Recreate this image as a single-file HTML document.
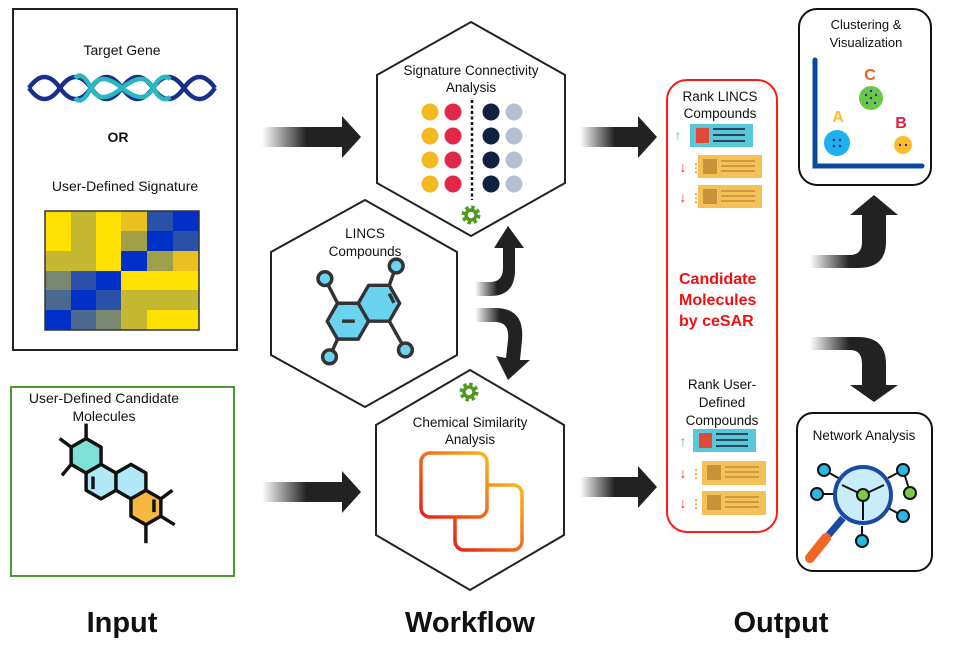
<!DOCTYPE html>
<html><head><meta charset="utf-8"><style>
html,body{margin:0;padding:0;background:#fff;}
svg{display:block}
text{font-family:"Liberation Sans",sans-serif;fill:#111}
</style></head><body>
<svg width="953" height="667" viewBox="0 0 953 667" xmlns="http://www.w3.org/2000/svg">
<defs>
<linearGradient id="fade" x1="0" x2="1" y1="0" y2="0">
<stop offset="0" stop-color="#fff"/><stop offset="0.45" stop-color="#222"/><stop offset="1" stop-color="#222"/>
</linearGradient>
<linearGradient id="sq" x1="0" y1="1" x2="1" y2="0">
<stop offset="0" stop-color="#e8201a"/><stop offset="1" stop-color="#f8b818"/>
</linearGradient>
<g id="gear"><circle r="7" fill="none" stroke="#4a9a1e" stroke-width="5" stroke-dasharray="3 2.5"/><circle r="5" fill="none" stroke="#4a9a1e" stroke-width="3.5"/></g>
</defs>

<!-- Input boxes -->
<rect x="13" y="9" width="224" height="341" fill="#fff" stroke="#222" stroke-width="2"/>
<text x="122" y="55" font-size="14" text-anchor="middle">Target Gene</text>
<g fill="none" stroke-width="4.5">
<path d="M29,88 Q44.5,66 60,88 T91,88 T122,88 T153,88 T184,88 T215,88" stroke="#1a2f8a"/>
<path d="M29,88 Q44.5,110 60,88 T91,88 T122,88 T153,88 T184,88 T215,88" stroke="#1a2f8a"/>
<path d="M75,78 Q82,70 91,88 T122,88 T153,88 Q162,104 170,97" stroke="#2ab8c0"/>
<path d="M75,98 Q82,106 91,88 T122,88 T153,88 Q162,72 170,79" stroke="#2ab8c0"/>
</g>
<text x="118" y="142" font-size="14" font-weight="bold" text-anchor="middle">OR</text>
<text x="125" y="191" font-size="14" text-anchor="middle">User-Defined Signature</text>
<g stroke="none">
<rect x="45" y="211" width="154" height="119" fill="#c4b830"/>
<rect x="45" y="211" width="26" height="40" fill="#ffe000"/><rect x="71" y="211" width="25" height="40" fill="#c4b830"/><rect x="96" y="211" width="25" height="60" fill="#ffe000"/><rect x="121" y="211" width="26" height="20" fill="#e8c020"/><rect x="147" y="211" width="26" height="20" fill="#2a50a8"/><rect x="173" y="211" width="26" height="20" fill="#0030c8"/>
<rect x="121" y="231" width="26" height="20" fill="#a0a048"/><rect x="147" y="231" width="26" height="20" fill="#0030c8"/><rect x="173" y="231" width="26" height="20" fill="#2a50a8"/>
<rect x="121" y="251" width="26" height="20" fill="#0030c8"/><rect x="147" y="251" width="26" height="20" fill="#a0a048"/><rect x="173" y="251" width="26" height="20" fill="#e8c020"/>
<rect x="45" y="271" width="26" height="19" fill="#7a8870"/><rect x="71" y="271" width="25" height="19" fill="#2a50a8"/><rect x="96" y="271" width="25" height="19" fill="#0030c8"/><rect x="121" y="271" width="78" height="19" fill="#ffe000"/>
<rect x="45" y="290" width="26" height="20" fill="#4a6890"/><rect x="71" y="290" width="25" height="20" fill="#0030c8"/><rect x="96" y="290" width="25" height="20" fill="#2a50a8"/>
<rect x="45" y="310" width="26" height="20" fill="#0030c8"/><rect x="71" y="310" width="25" height="20" fill="#4a6890"/><rect x="96" y="310" width="25" height="20" fill="#7a8870"/><rect x="147" y="310" width="52" height="20" fill="#ffe000"/>
</g>
<rect x="45" y="211" width="154" height="119" fill="none" stroke="#333" stroke-width="1.5"/>

<rect x="11" y="387" width="223" height="189" fill="#fff" stroke="#4a9a2e" stroke-width="2"/>
<text x="104" y="403" font-size="14" text-anchor="middle">User-Defined Candidate</text>
<text x="104" y="421" font-size="14" text-anchor="middle">Molecules</text>
<g stroke="#111" stroke-width="3" stroke-linejoin="round" transform="translate(116,488) scale(1.15) translate(-116,-484)">
<line x1="90" y1="441" x2="90" y2="428"/><line x1="77" y1="448.5" x2="67" y2="441"/><line x1="77" y1="463.5" x2="69" y2="473"/>
<line x1="155" y1="493.5" x2="165" y2="486"/><line x1="155" y1="508.5" x2="167" y2="516"/><line x1="142" y1="516" x2="142" y2="532"/>
<polygon points="90,441 103,448.5 103,463.5 90,471 77,463.5 77,448.5" fill="#7fe0d8"/>
<polygon points="103,463.5 116,471 116,486 103,493.5 90,486 90,471" fill="#b0e8f8"/>
<polygon points="129,463.5 142,471 142,486 129,493.5 116,486 116,471" fill="#b0e8f8"/>
<polygon points="142,486 155,493.5 155,508.5 142,516 129,508.5 129,493.5" fill="#f4b840"/>
<line x1="96" y1="474" x2="96" y2="485"/><line x1="149" y1="494" x2="149" y2="505"/>
</g>

<!-- Arrows straight -->
<path d="M262,127 H342 V116 L361,137 L342,158 V147 H262 Z" fill="url(#fade)"/>
<path d="M262,482 H342 V471 L361,492 L342,513 V502 H262 Z" fill="url(#fade)"/>
<path d="M580,127 H638 V116 L657,137 L638,158 V147 H580 Z" fill="url(#fade)"/>
<path d="M580,477 H638 V466 L657,487 L638,508 V497 H580 Z" fill="url(#fade)"/>

<!-- Hexagons -->
<polygon points="471,22 565,75 565,183 471,236 377,183 377,75" fill="#fff" stroke="#222" stroke-width="2"/>
<text x="471" y="75" font-size="13.5" text-anchor="middle">Signature Connectivity</text>
<text x="471" y="92" font-size="13.5" text-anchor="middle">Analysis</text>
<g>
<circle cx="430" cy="112" r="8.5" fill="#f4b820"/><circle cx="430" cy="136" r="8.5" fill="#f4b820"/><circle cx="430" cy="160" r="8.5" fill="#f4b820"/><circle cx="430" cy="184" r="8.5" fill="#f4b820"/>
<circle cx="453" cy="112" r="8.5" fill="#e0284a"/><circle cx="453" cy="136" r="8.5" fill="#e0284a"/><circle cx="453" cy="160" r="8.5" fill="#e0284a"/><circle cx="453" cy="184" r="8.5" fill="#e0284a"/>
<circle cx="491" cy="112" r="8.5" fill="#0f2140"/><circle cx="491" cy="136" r="8.5" fill="#0f2140"/><circle cx="491" cy="160" r="8.5" fill="#0f2140"/><circle cx="491" cy="184" r="8.5" fill="#0f2140"/>
<circle cx="514" cy="112" r="8.5" fill="#b8c0d0"/><circle cx="514" cy="136" r="8.5" fill="#b8c0d0"/><circle cx="514" cy="160" r="8.5" fill="#b8c0d0"/><circle cx="514" cy="184" r="8.5" fill="#b8c0d0"/>
<line x1="472" y1="100" x2="472" y2="200" stroke="#111" stroke-width="2.5" stroke-dasharray="3 2.5"/>
</g>
<use href="#gear" x="471" y="215"/>

<polygon points="365,200 457,252 457,355 365,407 271,355 271,252" fill="#fff" stroke="#222" stroke-width="2"/>
<text x="365" y="238" font-size="13.5" text-anchor="middle">LINCS</text>
<text x="365" y="256" font-size="13.5" text-anchor="middle">Compounds</text>
<g stroke="#333" stroke-width="3" stroke-linejoin="round" fill="#6ad4f0" transform="translate(364,312) scale(1.15) translate(-364,-310)">
<line x1="341" y1="302.4" x2="330" y2="281"/><line x1="386" y1="286.8" x2="392" y2="270"/><line x1="386" y1="318" x2="400" y2="343"/><line x1="341" y1="333.6" x2="334" y2="349"/>
<polygon points="368,318 359,302.4 341,302.4 332,318 341,333.6 359,333.6"/>
<polygon points="395,302.4 386,286.8 368,286.8 359,302.4 368,318 386,318"/>
<line x1="345" y1="318" x2="356" y2="318"/><line x1="386" y1="294" x2="390" y2="302"/>
<circle cx="392" cy="270" r="6"/><circle cx="330" cy="281" r="6"/><circle cx="400" cy="343" r="6"/><circle cx="334" cy="349" r="6"/>
</g>

<polygon points="470,370 564,425 564,535 470,590 376,535 376,425" fill="#fff" stroke="#222" stroke-width="2"/>
<use href="#gear" x="469" y="392"/>
<text x="470" y="427" font-size="13.5" text-anchor="middle">Chemical Similarity</text>
<text x="470" y="444" font-size="13.5" text-anchor="middle">Analysis</text>
<rect x="421" y="453" width="66" height="64" rx="9" fill="none" stroke="url(#sq)" stroke-width="3.5"/>
<path d="M487,485 H513 a9,9 0 0 1 9,9 V541 a9,9 0 0 1 -9,9 H464 a9,9 0 0 1 -9,-9 V517" fill="none" stroke="url(#sq)" stroke-width="3.5"/>

<!-- Curved arrows middle -->
<path d="M475,282 H490 Q503,282 503,268 V248 H494 L508,226 L524,248 H515 V270 Q515,296 490,296 H475 Z" fill="url(#fade)"/>
<path d="M475,308 H495 Q525,308 522,340 L520,360 H530 L508,380 L496,356 L506,358 L508,340 Q510,322 495,322 H475 Z" fill="url(#fade)"/>

<!-- Output curved arrows -->
<path d="M810,255 H850 Q862,255 862,242 V215 H850 L874,195 L898,215 H886 V242 Q886,268 858,268 H810 Z" fill="url(#fade)"/>
<path d="M810,337 H858 Q886,337 886,364 V385 H898 L874,402 L850,385 H862 V364 Q862,350 850,350 H810 Z" fill="url(#fade)"/>

<!-- Red box -->
<rect x="667" y="80" width="110" height="452" rx="20" fill="#fff" stroke="#ff1a1a" stroke-width="2"/>
<text x="720" y="101" font-size="13.5" text-anchor="middle">Rank LINCS</text>
<text x="720" y="118" font-size="13.5" text-anchor="middle">Compounds</text>
<g>
<text x="678" y="140" font-size="14" font-weight="bold" text-anchor="middle" style="fill:#40b8c8">↑</text>
<rect x="690" y="124" width="63" height="23" fill="#58c8d8"/><rect x="696" y="128" width="13" height="15" fill="#e04838"/>
<g stroke="#263050" stroke-width="1.8"><line x1="713" y1="129" x2="745" y2="129"/><line x1="713" y1="135" x2="745" y2="135"/><line x1="713" y1="141" x2="745" y2="141"/></g>
</g>
<g>
<text x="683" y="172" font-size="14" font-weight="bold" text-anchor="middle" style="fill:#e03020">↓</text>
<text x="690" y="172" font-size="12" font-weight="bold" style="fill:#f0a020">⋮</text>
<rect x="698" y="155" width="64" height="23" fill="#f4c058"/><rect x="703" y="159" width="14" height="15" fill="#c8943a"/>
<g stroke="#c8943a" stroke-width="1.8"><line x1="721" y1="161" x2="755" y2="161"/><line x1="721" y1="166" x2="755" y2="166"/><line x1="721" y1="171" x2="755" y2="171"/></g>
<text x="683" y="202" font-size="14" font-weight="bold" text-anchor="middle" style="fill:#e03020">↓</text>
<text x="690" y="202" font-size="12" font-weight="bold" style="fill:#f0a020">⋮</text>
<rect x="698" y="185" width="64" height="23" fill="#f4c058"/><rect x="703" y="189" width="14" height="15" fill="#c8943a"/>
<g stroke="#c8943a" stroke-width="1.8"><line x1="721" y1="191" x2="755" y2="191"/><line x1="721" y1="196" x2="755" y2="196"/><line x1="721" y1="201" x2="755" y2="201"/></g>
</g>
<text x="679" y="284" font-size="16" font-weight="bold" style="fill:#f01010">Candidate</text>
<text x="679" y="305" font-size="16" font-weight="bold" style="fill:#f01010">Molecules</text>
<text x="679" y="326" font-size="16" font-weight="bold" style="fill:#f01010">by ceSAR</text>
<text x="722" y="389" font-size="13.5" text-anchor="middle">Rank User-</text>
<text x="722" y="407" font-size="13.5" text-anchor="middle">Defined</text>
<text x="722" y="425" font-size="13.5" text-anchor="middle">Compounds</text>
<g>
<text x="683" y="446" font-size="14" font-weight="bold" text-anchor="middle" style="fill:#40b8c8">↑</text>
<rect x="693" y="429" width="63" height="23" fill="#58c8d8"/><rect x="699" y="433" width="13" height="15" fill="#e04838"/>
<g stroke="#263050" stroke-width="1.8"><line x1="716" y1="434" x2="748" y2="434"/><line x1="716" y1="440" x2="748" y2="440"/><line x1="716" y1="446" x2="748" y2="446"/></g>
<text x="683" y="478" font-size="14" font-weight="bold" text-anchor="middle" style="fill:#e03020">↓</text>
<text x="690" y="478" font-size="12" font-weight="bold" style="fill:#f0a020">⋮</text>
<rect x="702" y="461" width="64" height="24" fill="#f4c058"/><rect x="707" y="465" width="14" height="15" fill="#c8943a"/>
<g stroke="#c8943a" stroke-width="1.8"><line x1="725" y1="467" x2="759" y2="467"/><line x1="725" y1="472" x2="759" y2="472"/><line x1="725" y1="477" x2="759" y2="477"/></g>
<text x="683" y="508" font-size="14" font-weight="bold" text-anchor="middle" style="fill:#e03020">↓</text>
<text x="690" y="508" font-size="12" font-weight="bold" style="fill:#f0a020">⋮</text>
<rect x="702" y="491" width="64" height="24" fill="#f4c058"/><rect x="707" y="495" width="14" height="15" fill="#c8943a"/>
<g stroke="#c8943a" stroke-width="1.8"><line x1="725" y1="497" x2="759" y2="497"/><line x1="725" y1="502" x2="759" y2="502"/><line x1="725" y1="507" x2="759" y2="507"/></g>
</g>

<!-- Clustering -->
<rect x="799" y="9" width="132" height="176" rx="18" fill="#fff" stroke="#111" stroke-width="2"/>
<text x="866" y="29" font-size="13" text-anchor="middle">Clustering &amp;</text>
<text x="866" y="47" font-size="13" text-anchor="middle">Visualization</text>
<path d="M815,60 V166 H922" fill="none" stroke="#0a48a0" stroke-width="5" stroke-linecap="round"/>
<circle cx="837" cy="143" r="13" fill="#20b0f0"/><circle cx="871" cy="98" r="12" fill="#6ac848"/><circle cx="903" cy="145" r="9" fill="#fcbc30"/>
<g fill="#1a3a90"><circle cx="834" cy="140" r="1.3"/><circle cx="840" cy="140" r="1.3"/><circle cx="834" cy="146" r="1.3"/><circle cx="840" cy="146" r="1.3"/><circle cx="900" cy="145" r="1.2"/><circle cx="906" cy="145" r="1.2"/><circle cx="871" cy="98" r="1.2"/><circle cx="866" cy="95" r="1.2"/><circle cx="876" cy="95" r="1.2"/><circle cx="867" cy="103" r="1.2"/><circle cx="875" cy="103" r="1.2"/><circle cx="871" cy="91" r="1.2"/></g>
<text x="838" y="122" font-size="16" font-weight="bold" text-anchor="middle" style="fill:#fcbc30">A</text>
<text x="870" y="80" font-size="16" font-weight="bold" text-anchor="middle" style="fill:#f06020">C</text>
<text x="901" y="128" font-size="16" font-weight="bold" text-anchor="middle" style="fill:#e02040">B</text>

<!-- Network -->
<rect x="797" y="413" width="135" height="158" rx="16" fill="#fff" stroke="#111" stroke-width="2"/>
<text x="864" y="440" font-size="13.5" text-anchor="middle">Network Analysis</text>
<g stroke="#111" stroke-width="2">
<line x1="824" y1="470" x2="842" y2="480"/><line x1="817" y1="494" x2="836" y2="494"/><line x1="903" y1="470" x2="888" y2="478"/><line x1="903" y1="470" x2="910" y2="492"/><line x1="903" y1="516" x2="888" y2="508"/><line x1="862" y1="526" x2="862" y2="540"/>
<line x1="843" y1="518" x2="826" y2="538" stroke="#1a4aa0" stroke-width="7"/>
<line x1="826" y1="538" x2="810" y2="558" stroke="#f06828" stroke-width="10" stroke-linecap="round"/>
<circle cx="863" cy="495" r="28" fill="#c8ecf8" stroke="#1a4aa0" stroke-width="4"/>
<line x1="863" y1="495" x2="842" y2="485"/><line x1="863" y1="495" x2="884" y2="485"/><line x1="863" y1="495" x2="863" y2="520"/>
<circle cx="863" cy="495" r="6" fill="#7acc48"/>
<circle cx="824" cy="470" r="6" fill="#28b8e8"/><circle cx="817" cy="494" r="6" fill="#28b8e8"/><circle cx="903" cy="470" r="6" fill="#28b8e8"/><circle cx="910" cy="493" r="6" fill="#7acc48"/><circle cx="903" cy="516" r="6" fill="#28b8e8"/><circle cx="862" cy="541" r="6" fill="#28b8e8"/>
</g>

<!-- Bottom labels -->
<text x="122" y="632" font-size="29" font-weight="bold" text-anchor="middle">Input</text>
<text x="470" y="632" font-size="29" font-weight="bold" text-anchor="middle">Workflow</text>
<text x="781" y="632" font-size="29" font-weight="bold" text-anchor="middle">Output</text>
</svg>
</body></html>
